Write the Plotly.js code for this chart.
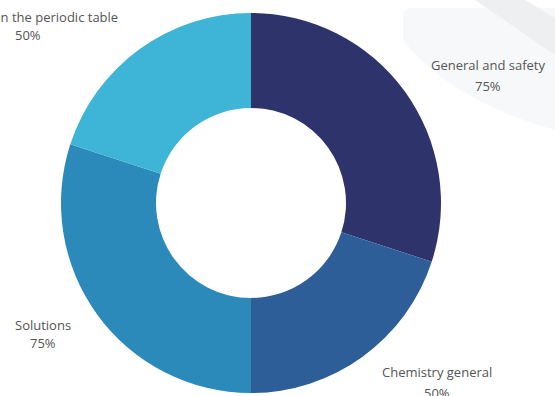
<!DOCTYPE html>
<html>
<head>
<meta charset="utf-8">
<script src="https://cdn.plot.ly/plotly-3.0.1.min.js"></script>
<style>html,body{margin:0;padding:0;background:#fff;}#chart{width:555px;height:396px;}</style>
</head>
<body>
<div id="chart"></div>
<script>
const categories = ["General and safety", "Chemistry general", "Solutions", "Elements in the periodic table"];
const values = [75, 50, 75, 50];
const valueLabels = ["75%", "50%", "75%", "50%"];
const colors = ["#2f336c", "#2d5e98", "#2c8abb", "#3eb5d7"];

const W = 555, H = 396;
const cx = 251, cy = 203, R = 190;
// label anchor positions in pixels (name line, value line)
const labelPos = [
  {x: 488, y1: 65, y2: 86},
  {x: 437, y1: 372, y2: 393},
  {x: 43, y1: 325, y2: 343},
  {x: 28, y1: 17, y2: 35}
];

function px(x, y) { return (x / W).toFixed(5) + ' ' + (1 - y / H).toFixed(5); }

const annotations = [];
categories.forEach((c, i) => {
  const p = labelPos[i];
  annotations.push({text: c, x: p.x / W, y: 1 - p.y1 / H, xref: 'paper', yref: 'paper',
    xanchor: 'center', yanchor: 'middle', showarrow: false,
    font: {family: 'Open Sans', size: 13, color: '#555'}});
  annotations.push({text: valueLabels[i], x: p.x / W, y: 1 - p.y2 / H, xref: 'paper', yref: 'paper',
    xanchor: 'center', yanchor: 'middle', showarrow: false,
    font: {family: 'Open Sans', size: 13, color: '#555'}});
});

const data = [{
  type: 'pie',
  labels: categories,
  values: values,
  hole: 0.5,
  sort: false,
  direction: 'clockwise',
  rotation: 0,
  textinfo: 'none',
  hoverinfo: 'label+value',
  marker: {colors: colors, line: {width: 0}},
  domain: {x: [(cx - R) / W, (cx + R) / W], y: [(H - cy - R) / H, (H - cy + R) / H]},
  showlegend: false
}];

const layout = {
  width: W, height: H,
  margin: {l: 0, r: 0, t: 0, b: 0},
  paper_bgcolor: '#fff',
  plot_bgcolor: '#fff',
  showlegend: false,
  annotations: annotations,
  shapes: [
    {type: 'path', xref: 'paper', yref: 'paper', layer: 'below',
     path: 'M ' + px(412, 8) + ' L ' + px(555, 8) + ' L ' + px(555, 130) +
           ' Q ' + px(450, 100) + ' ' + px(403, 40) + ' L ' + px(403, 17) + ' Q ' + px(403, 8) + ' ' + px(412, 8) + ' Z',
     fillcolor: '#f7f8f9', line: {width: 0}},
    {type: 'path', xref: 'paper', yref: 'paper', layer: 'below',
     path: 'M ' + px(475, 0) + ' L ' + px(525, 0) + ' L ' + px(555, 18) + ' L ' + px(555, 55) + ' Z',
     fillcolor: '#eeeff1', line: {width: 0}}
  ]
};

Plotly.newPlot('chart', data, layout, {displayModeBar: false, staticPlot: true});
</script>
</body>
</html>
